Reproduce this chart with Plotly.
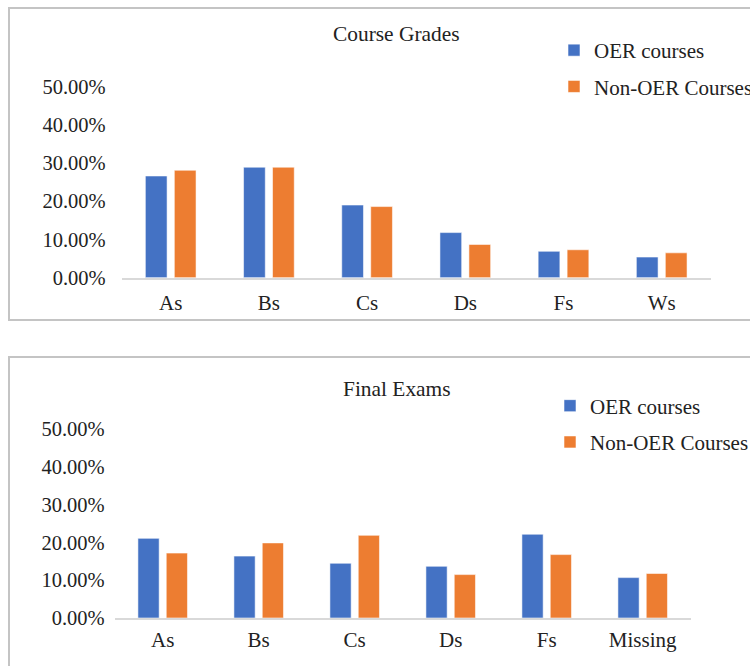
import plotly.graph_objects as go

# ---- data ----
grade_categories = ["As", "Bs", "Cs", "Ds", "Fs", "Ws"]
grade_oer = [0.266, 0.289, 0.190, 0.118, 0.069, 0.054]
grade_non_oer = [0.281, 0.289, 0.186, 0.087, 0.073, 0.065]

exam_categories = ["As", "Bs", "Cs", "Ds", "Fs", "Missing"]
exam_oer = [0.211, 0.164, 0.145, 0.137, 0.222, 0.107]
exam_non_oer = [0.172, 0.199, 0.219, 0.115, 0.168, 0.118]

series_names = ["OER courses", "Non-OER Courses"]
titles = ["Course Grades", "Final Exams"]
y_ticks = [0, 0.1, 0.2, 0.3, 0.4, 0.5]

BLUE = "#4472C4"
ORANGE = "#ED7D31"
FONT = "Liberation Serif"
TXT = "#222222"
W, H = 750, 666


def px_x(p):
    return p / W


def px_y(p):
    return 1 - p / H


fig = go.Figure()

bar_line = dict(color="rgba(255,255,255,0.55)", width=1)

# top chart
fig.add_trace(go.Bar(x=grade_categories, y=grade_oer, name=series_names[0],
                     marker=dict(color=BLUE, line=bar_line),
                     xaxis="x", yaxis="y", legend="legend", legendgroup="a"))
fig.add_trace(go.Bar(x=grade_categories, y=grade_non_oer, name=series_names[1],
                     marker=dict(color=ORANGE, line=bar_line),
                     xaxis="x", yaxis="y", legend="legend", legendgroup="b"))
# bottom chart
fig.add_trace(go.Bar(x=exam_categories, y=exam_oer, name=series_names[0],
                     marker=dict(color=BLUE, line=bar_line),
                     xaxis="x2", yaxis="y2", legend="legend2", legendgroup="c"))
fig.add_trace(go.Bar(x=exam_categories, y=exam_non_oer, name=series_names[1],
                     marker=dict(color=ORANGE, line=bar_line),
                     xaxis="x2", yaxis="y2", legend="legend2", legendgroup="d"))

xcommon = dict(showline=True, linecolor="#D9D9D9", linewidth=1.5, showgrid=False,
               zeroline=False, ticks="", tickfont=dict(family=FONT, size=21, color=TXT))
ycommon = dict(range=[0, 0.5], tickvals=y_ticks, tickformat=".2%", showgrid=False,
               zeroline=False, showline=False, ticks="",
               tickfont=dict(family=FONT, size=20.5, color=TXT))

legend_common = dict(font=dict(family=FONT, size=21, color=TXT), bgcolor="rgba(0,0,0,0)",
                     xanchor="left", yanchor="top", tracegroupgap=6, traceorder="grouped",
                     itemclick=False)

fig.update_layout(
    width=W, height=H, autosize=False,
    font=dict(family=FONT, size=21, color=TXT),
    margin=dict(l=0, r=0, t=0, b=0, autoexpand=False),
    paper_bgcolor="white", plot_bgcolor="white",
    barmode="group", bargap=0.41, bargroupgap=0.25,
    xaxis=dict(domain=[px_x(121.6), px_x(710.8)], anchor="y", ticklabelstandoff=5, **xcommon),
    yaxis=dict(domain=[px_y(277.7), px_y(86.5)], anchor="x", ticklabelstandoff=15, **ycommon),
    xaxis2=dict(domain=[px_x(114.7), px_x(690.7)], anchor="y2", ticklabelstandoff=2, **xcommon),
    yaxis2=dict(domain=[px_y(618.0), px_y(429.3)], anchor="x2", ticklabelstandoff=9, **ycommon),
    legend=dict(x=px_x(554), y=px_y(30), **legend_common),
    legend2=dict(x=px_x(550), y=px_y(385.5), **legend_common),
    showlegend=True,
    annotations=[
        dict(text=titles[0], x=px_x(396), y=px_y(34), xref="paper", yref="paper",
             showarrow=False, xanchor="center", yanchor="middle",
             font=dict(family=FONT, size=21.4, color=TXT)),
        dict(text=titles[1], x=px_x(397), y=px_y(389), xref="paper", yref="paper",
             showarrow=False, xanchor="center", yanchor="middle",
             font=dict(family=FONT, size=21.4, color=TXT)),
    ],
    shapes=[
        dict(type="rect", xref="paper", yref="paper", x0=px_x(9), x1=1.02,
             y0=px_y(320), y1=px_y(8), line=dict(color="#C4C4C4", width=2)),
        dict(type="rect", xref="paper", yref="paper", x0=px_x(9), x1=1.02,
             y0=-0.02, y1=px_y(357), line=dict(color="#C4C4C4", width=2)),
    ],
)

fig.write_html("out.html", config={"displayModeBar": False},
               post_script="document.body.style.margin='0';")
